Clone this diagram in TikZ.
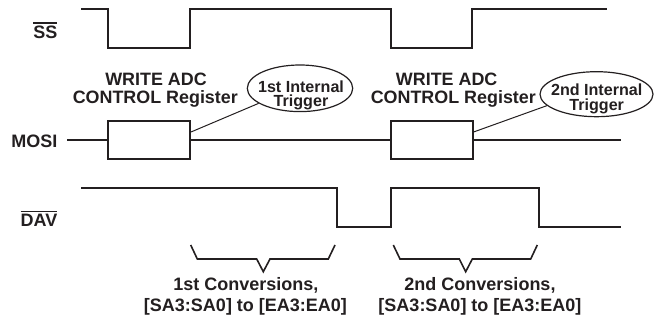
\documentclass[tikz,border=0pt]{standalone}
\usepackage{fontspec}
\setmainfont{Liberation Sans}
\usetikzlibrary{shapes.geometric,calc}
\definecolor{ink}{HTML}{231F20}
\newcommand{\barred}[1]{\vbox{\hrule height 1.4pt\kern 2.4pt\hbox{#1}}}
\begin{document}
\begin{tikzpicture}[x=1pt,y=-1pt,line join=miter,
  sig/.style={draw=ink,line width=2pt},
  regbox/.style={draw=ink,line width=2pt,minimum width=82pt,minimum height=38.6pt,inner sep=0pt},
  trig/.style={draw=ink,line width=1.2pt,ellipse,inner sep=0pt},
  lead/.style={draw=ink,line width=1pt},
  brace/.style={draw=ink,line width=1.6pt},
  lbl/.style={font=\fontsize{18}{18}\selectfont\bfseries,text=ink,inner sep=0pt},
  hdr/.style={font=\fontsize{17.9}{17.9}\selectfont\bfseries,text=ink,inner sep=0pt,anchor=base},
  ttxt/.style={font=\fontsize{16.1}{14.8}\selectfont\bfseries,text=ink,inner sep=0pt,align=center,anchor=center}]
\useasboundingbox (0,0) rectangle (655,323);

% signal names
\node[lbl,anchor=base east] (ssl) at (57.5,38.5) {\barred{SS}};
\node[lbl,anchor=base east] (mosil) at (57.5,148) {MOSI};
\node[lbl,anchor=base east] (davl) at (57.5,226.7) {\barred{DAV}};

% SS waveform
\draw[sig] (81,9.3) -- (108,9.3) -- (108,47.7) -- (190,47.7) -- (190,9.3)
  -- (391.3,9.3) -- (391.3,47.7) -- (472,47.7) -- (472,9.3) -- (606.7,9.3);

% MOSI
\node[regbox] (b1) at (149,140) {};
\node[regbox] (b2) at (431.6,140) {};
\coordinate (m0) at (67,140);
\coordinate (m1) at (620.7,140);
\draw[sig] (m0) -- (b1.west);
\draw[sig] (b1.east) -- (b2.west);
\draw[sig] (b2.east) -- (m1);

% DAV waveform
\draw[sig] (81,188.3) -- (337,188.3) -- (337,226.5) -- (391.3,226.5) -- (391.3,188.3)
  -- (539.3,188.3) -- (539.3,226.5) -- (621,226.5);

% header labels
\node[hdr] (w1a) at (156,86) {WRITE ADC};
\node[hdr] (w1b) at (155.3,103.3) {CONTROL Register};
\node[hdr] (w2a) at (446.7,86) {WRITE ADC};
\node[hdr] (w2b) at (453.3,103.3) {CONTROL Register};

% trigger ellipses
\node[trig,minimum width=105.4pt,minimum height=46.6pt] (e1) at (300,88.3) {};
\node[ttxt] (e1t) at (301,95.4) {1st Internal\\Trigger};
\node[trig,minimum width=113pt,minimum height=45pt] (e2) at (596.5,94.2) {};
\node[ttxt] (e2t) at (596.7,98.9) {2nd Internal\\Trigger};

\draw[lead] ($(b1.east)+(0,-8)$) -- (e1.200);
\draw[lead] ($(b2.east)+(0,-8)$) -- (e2.193);

% braces
\draw[brace] (190.7,245) -- (197.3,259) -- (256.7,259) -- (263.3,271.7) -- (270,259) -- (328.3,259) -- (335,245);
\draw[brace] (393.3,245) -- (400,259) -- (459.3,259) -- (465.7,271.7) -- (472.3,259) -- (530.7,259) -- (537.3,245);

% conversion labels
\node[lbl,anchor=base] (c1a) at (245.8,290.5) {1st Conversions,};
\node[lbl,anchor=base] (c1b) at (245.5,311) {[SA3:SA0] to [EA3:EA0]};
\node[lbl,anchor=base] (c2a) at (480,290.5) {2nd Conversions,};
\node[lbl,anchor=base] (c2b) at (480,311) {[SA3:SA0] to [EA3:EA0]};
\end{tikzpicture}
\end{document}
